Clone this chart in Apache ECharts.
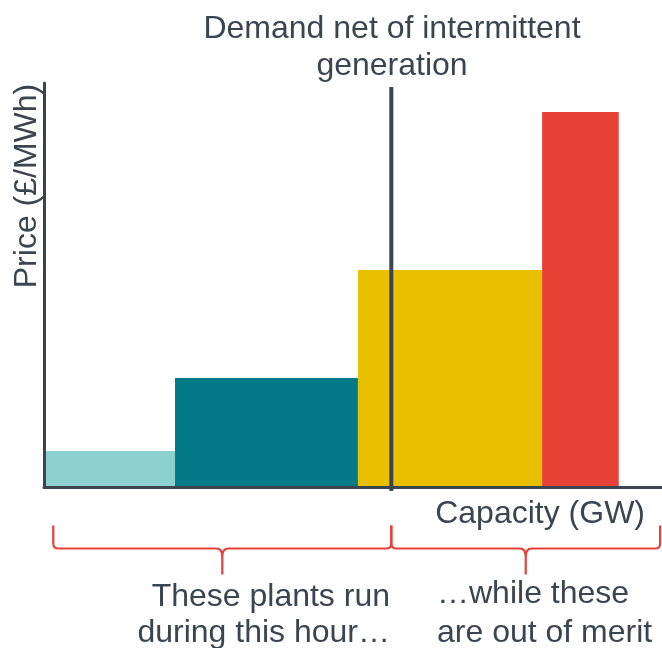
<!DOCTYPE html>
<html>
<head>
<meta charset="utf-8">
<script src="https://cdn.jsdelivr.net/npm/echarts@6/dist/echarts.min.js"></script>
<style>
  html, body { margin: 0; padding: 0; background: #ffffff; }
  #chart { width: 662px; height: 648px; }
</style>
</head>
<body>
<div id="chart"></div>
<script>
// Merit order: plants stacked left to right by running cost, width = capacity.
const capacityEdges = [0, 21.2, 50.8, 80.6, 93.0];   // cumulative capacity (GW, schematic)
const prices = [9.0, 27.1, 53.8, 92.8];               // offer price of each block (£/MWh, schematic)
const blockColors = ['#8dd0d0', '#027a87', '#e8c000', '#e84135'];
const demandNet = 56.2;                                // demand net of intermittent generation
const demandLineTop = 99.0;
const bracketSpans = [[1.5, demandNet], [demandNet, 99.7]];

const ink = '#3b4550';
const braceRed = '#e8403a';
const font = '32px "Liberation Sans", Arial, sans-serif';

const blocks = prices.map((p, i) => [capacityEdges[i], capacityEdges[i + 1], p]);

const chart = echarts.init(document.getElementById('chart'), null, { renderer: 'canvas' });

chart.setOption({
  animation: false,
  backgroundColor: '#ffffff',
  grid: { left: 44, right: 0, top: 83, bottom: 160.5, containLabel: false },
  xAxis: {
    type: 'value', min: 0, max: 100, z: 5,
    axisLine: { show: true, lineStyle: { color: ink, width: 3 } },
    axisTick: { show: false }, axisLabel: { show: false }, splitLine: { show: false }
  },
  yAxis: {
    type: 'value', min: 0, max: 100, z: 5,
    axisLine: { show: true, lineStyle: { color: ink, width: 3 } },
    axisTick: { show: false }, axisLabel: { show: false }, splitLine: { show: false }
  },
  series: [
    {
      type: 'custom',
      data: blocks,
      renderItem: function (params, api) {
        const p0 = api.coord([api.value(0), 0]);
        const p1 = api.coord([api.value(1), api.value(2)]);
        return {
          type: 'rect',
          shape: { x: p0[0], y: p1[1], width: p1[0] - p0[0], height: p0[1] - p1[1] },
          style: { fill: blockColors[params.dataIndex] }
        };
      },
      z: 2
    },
    {
      type: 'custom',
      data: [[demandNet, demandLineTop]],
      clip: false,
      renderItem: function (params, api) {
        const top = api.coord([api.value(0), api.value(1)]);
        const bottom = api.coord([api.value(0), 0]);
        return {
          type: 'line',
          shape: { x1: top[0], y1: top[1], x2: bottom[0], y2: bottom[1] + 3.5 },
          style: { stroke: ink, lineWidth: 4 }
        };
      },
      z: 6
    },
    {
      type: 'custom',
      data: bracketSpans,
      clip: false,
      renderItem: function (params, api) {
        const a = api.coord([api.value(0), 0]);
        const b = api.coord([api.value(1), 0]);
        const x0 = a[0], x1 = b[0], xc = (x0 + x1) / 2;
        const base = a[1];
        const yTop = base + 38, yMid = base + 61, yTip = base + 87;
        const d = [
          'M', x0, yTop, 'L', x0, yMid - 5, 'Q', x0, yMid, x0 + 5, yMid,
          'L', xc - 6, yMid, 'Q', xc, yMid, xc, yMid + 8, 'L', xc, yTip,
          'M', xc, yMid + 8, 'Q', xc, yMid, xc + 6, yMid,
          'L', x1 - 5, yMid, 'Q', x1, yMid, x1, yMid - 5, 'L', x1, yTop
        ].join(' ');
        return {
          type: 'path',
          shape: { pathData: d },
          style: { stroke: braceRed, lineWidth: 2.2, fill: null }
        };
      },
      z: 3
    }
  ],
  graphic: [
    { type: 'text', x: 392, y: 29, style: { text: 'Demand net of intermittent', font: font, fill: ink, align: 'center', verticalAlign: 'middle' } },
    { type: 'text', x: 392, y: 66, style: { text: 'generation', font: font, fill: ink, align: 'center', verticalAlign: 'middle' } },
    { type: 'text', x: 27, y: 186, rotation: Math.PI / 2, style: { text: 'Price (£/MWh)', font: font, fill: ink, align: 'center', verticalAlign: 'middle' } },
    { type: 'text', x: 645, y: 514, style: { text: 'Capacity (GW)', font: font, fill: ink, align: 'right', verticalAlign: 'middle' } },
    { type: 'text', x: 390, y: 597, style: { text: 'These plants run', font: font, fill: ink, align: 'right', verticalAlign: 'middle' } },
    { type: 'text', x: 390, y: 633, style: { text: 'during this hour…', font: font, fill: ink, align: 'right', verticalAlign: 'middle' } },
    { type: 'text', x: 437, y: 594, style: { text: '…while these', font: font, fill: ink, align: 'left', verticalAlign: 'middle' } },
    { type: 'text', x: 437, y: 633, style: { text: 'are out of merit', font: font, fill: ink, align: 'left', verticalAlign: 'middle' } }
  ]
});
</script>
</body>
</html>
